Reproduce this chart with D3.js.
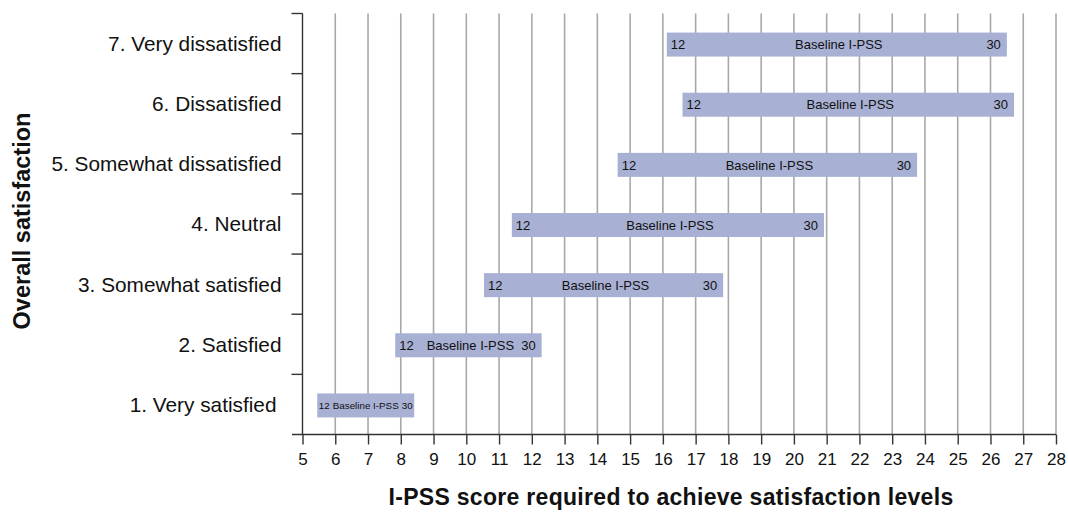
<!DOCTYPE html>
<html>
<head>
<meta charset="utf-8">
<script src="https://cdn.jsdelivr.net/npm/d3@7"></script>
<style>
  body { margin: 0; background: #fff; }
  svg text { font-family: "Liberation Sans", Arial, Helvetica, sans-serif; fill: #111; }
  .grid line { stroke: #a8a8a8; stroke-width: 1.6; }
  .axis path, .axis line { stroke: #333; stroke-width: 1.4; }
</style>
</head>
<body>
<div id="chart"></div>
<script>
var categories = [
  "1. Very satisfied",
  "2. Satisfied",
  "3. Somewhat satisfied",
  "4. Neutral",
  "5. Somewhat dissatisfied",
  "6. Dissatisfied",
  "7. Very dissatisfied"
]
// range start / end on the I-PSS scale
var range_start = [5.45, 7.83, 10.54, 11.39, 14.62, 16.6, 16.12]
var range_end = [8.41, 12.3, 17.84, 20.92, 23.76, 26.72, 26.5]
var bar_left_label = "12",
    bar_mid_label = "Baseline I-PSS",
    bar_right_label = "30"
var x_ticks = d3.range(5, 29)

var width = 1068,
    height = 516,
    margin = {left: 302.5, top: 13.5},
    bottom = 434.5

var svg = d3.select("#chart").append("svg")
  .attr("width", width)
  .attr("height", height)

var x = d3.scaleLinear()
  .domain([5, 28])
  .range([margin.left, 1056])

var y = d3.scaleBand()
  .domain(categories.slice().reverse())
  .range([margin.top, bottom])

// vertical grid lines
svg.append("g")
  .attr("class", "grid")
  .selectAll("line")
  .data(x_ticks.filter(function (d) { return d > 5 }))
  .join("line")
    .attr("x1", function (d) { return x(d) })
    .attr("x2", function (d) { return x(d) })
    .attr("y1", margin.top)
    .attr("y2", bottom)

// bars
var rows = categories.map(function (c, i) {
  return {cat: c, start: range_start[i], end: range_end[i], small: i == 0}
})

var bar_h = 24
var bar = svg.append("g").selectAll("g")
  .data(rows)
  .join("g")
    .attr("transform", function (d) {
      return "translate(0," + (y(d.cat) + y.bandwidth() / 2 - bar_h / 2 + 1) + ")"
    })

bar.append("rect")
  .attr("x", function (d) { return x(d.start) })
  .attr("width", function (d) { return x(d.end) - x(d.start) })
  .attr("height", bar_h)
  .attr("fill", "#a8b0d4")

function label_size(d) { return d.small ? "9.8px" : "13px" }

bar.append("text")
  .attr("x", function (d) { return x(d.start) + (d.small ? 1.5 : 4) })
  .attr("y", bar_h / 2)
  .attr("dy", "0.36em")
  .style("font-size", label_size)
  .text(bar_left_label)

bar.append("text")
  .attr("x", function (d) { return (x(d.start) + x(d.end)) / 2 + (d.small ? 0 : 2) })
  .attr("y", bar_h / 2)
  .attr("dy", "0.36em")
  .attr("text-anchor", "middle")
  .style("font-size", label_size)
  .text(bar_mid_label)

bar.append("text")
  .attr("x", function (d) { return x(d.end) - (d.small ? 1.5 : 6) })
  .attr("y", bar_h / 2)
  .attr("dy", "0.36em")
  .attr("text-anchor", "end")
  .style("font-size", label_size)
  .text(bar_right_label)

// x axis
var x_axis = svg.append("g")
  .attr("class", "axis")
  .attr("transform", "translate(0," + bottom + ")")
  .call(d3.axisBottom(x).tickValues(x_ticks).tickSize(10).tickSizeOuter(0).tickPadding(8))
x_axis.select(".domain").attr("d", "M292,0H" + x(28))
x_axis.selectAll("text").style("font-size", "17px")

// y axis: ticks at band boundaries
var y_axis = svg.append("g").attr("class", "axis")
y_axis.append("line")
  .attr("x1", margin.left).attr("x2", margin.left)
  .attr("y1", margin.top).attr("y2", bottom)
y_axis.selectAll("line.tk")
  .data(categories.map(function (c) { return y(c) }))
  .join("line")
    .attr("class", "tk")
    .attr("x1", margin.left - 11).attr("x2", margin.left)
    .attr("y1", function (d) { return d }).attr("y2", function (d) { return d })

svg.append("g").selectAll("text")
  .data(categories)
  .join("text")
    .attr("x", function (d, i) { return i == 0 ? 276.5 : 281.5 })
    .attr("y", function (d) { return y(d) + y.bandwidth() / 2 })
    .attr("dy", "0.36em")
    .attr("text-anchor", "end")
    .style("font-size", "20.8px")
    .text(function (d) { return d })

// axis titles
svg.append("text")
  .attr("transform", "translate(30,221) rotate(-90)")
  .attr("text-anchor", "middle")
  .style("font-size", "23.5px")
  .style("font-weight", "bold")
  .text("Overall satisfaction")

svg.append("text")
  .attr("x", 671)
  .attr("y", 505)
  .attr("text-anchor", "middle")
  .style("font-size", "23px")
  .style("font-weight", "bold")
  .style("letter-spacing", "0.3px")
  .text("I-PSS score required to achieve satisfaction levels")
</script>
</body>
</html>
